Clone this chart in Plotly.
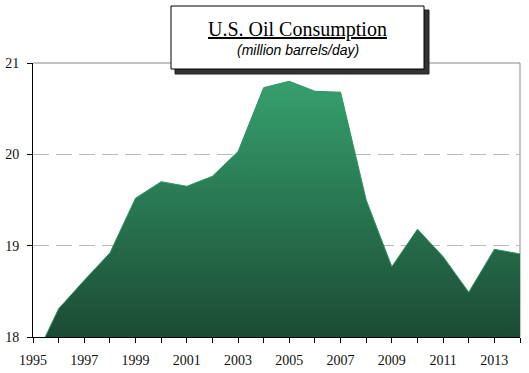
import plotly.graph_objects as go

years = [1995, 1996, 1997, 1998, 1999, 2000, 2001, 2002, 2003, 2004,
         2005, 2006, 2007, 2008, 2009, 2010, 2011, 2012, 2013, 2014]
consumption = [17.72, 18.31, 18.62, 18.92, 19.52, 19.70, 19.65, 19.76, 20.03, 20.73,
               20.80, 20.69, 20.68, 19.50, 18.77, 19.18, 18.88, 18.49, 18.96, 18.91]
tick_years = years
tick_labels = [str(y) if (y - 1995) % 2 == 0 and y < 2014 else "" for y in years]
y_ticks = [18, 19, 20, 21]

title_text = "<u>U.S. Oil Consumption</u>"
subtitle_text = "<i>(million barrels/day)</i>"

W, H = 529, 373
L, R, T, B = 33, 9, 63, 36
pw = W - L - R
ph = H - T - B


def px_x(x):
    return (x - L) / pw


def px_y(y):
    return (H - B - y) / ph


fig = go.Figure()
fig.add_trace(go.Scatter(
    x=years, y=consumption, mode="lines", fill="tozeroy",
    line=dict(color="#2e9463", width=1),
    fillgradient=dict(type="vertical", start=18, stop=20.8,
                      colorscale=[[0, "#1b4b34"], [1, "#35a06d"]]),
    hoverinfo="x+y", showlegend=False,
))

fig.update_layout(
    width=W, height=H,
    margin=dict(l=L, r=R, t=T, b=B, autoexpand=False),
    paper_bgcolor="white", plot_bgcolor="white",
    font=dict(family="Liberation Serif, Times New Roman, serif", size=14, color="#111"),
    xaxis=dict(range=[1995, 2014], tickvals=tick_years, ticktext=tick_labels,
               ticks="outside", ticklen=5, tickcolor="black", tickwidth=1,
               showline=True, linecolor="black", linewidth=1,
               showgrid=False, zeroline=False, ticklabelstandoff=5,
               automargin=False, tickfont=dict(size=14)),
    yaxis=dict(range=[18, 21], tickvals=y_ticks,
               ticks="outside", ticklen=5, tickcolor="black", tickwidth=1,
               showline=True, linecolor="black", linewidth=1,
               showgrid=True, gridcolor="#bbbbbb", griddash="16px,7px", gridwidth=1,
               zeroline=False, ticklabelstandoff=5,
               automargin=False, tickfont=dict(size=14)),
    shapes=[
        # top & right plot border (gray)
        dict(type="line", xref="paper", yref="paper", x0=0, x1=1, y0=1, y1=1,
             line=dict(color="#888888", width=1), layer="above"),
        dict(type="line", xref="paper", yref="paper", x0=1, x1=1, y0=0, y1=1,
             line=dict(color="#888888", width=1), layer="below"),
        # title box shadow
        dict(type="rect", xref="paper", yref="paper",
             x0=px_x(175), x1=px_x(429), y0=px_y(74), y1=px_y(10),
             fillcolor="#333333", line=dict(color="#222222", width=1), layer="above"),
        # title box
        dict(type="rect", xref="paper", yref="paper",
             x0=px_x(171), x1=px_x(424), y0=px_y(69), y1=px_y(6),
             fillcolor="white", line=dict(color="black", width=1), layer="above"),
    ],
    annotations=[
        dict(text=title_text, xref="paper", yref="paper",
             x=px_x(297.5), y=px_y(29), xanchor="center", yanchor="middle",
             showarrow=False,
             font=dict(family="Liberation Serif, Times New Roman, serif", size=20, color="black")),
        dict(text=subtitle_text, xref="paper", yref="paper",
             x=px_x(297.5), y=px_y(50), xanchor="center", yanchor="middle",
             showarrow=False,
             font=dict(family="Liberation Sans, Arial, sans-serif", size=14, color="black")),
    ],
)

fig.write_html("out.html", config={"displayModeBar": False},
               post_script="document.body.style.margin='0';")
